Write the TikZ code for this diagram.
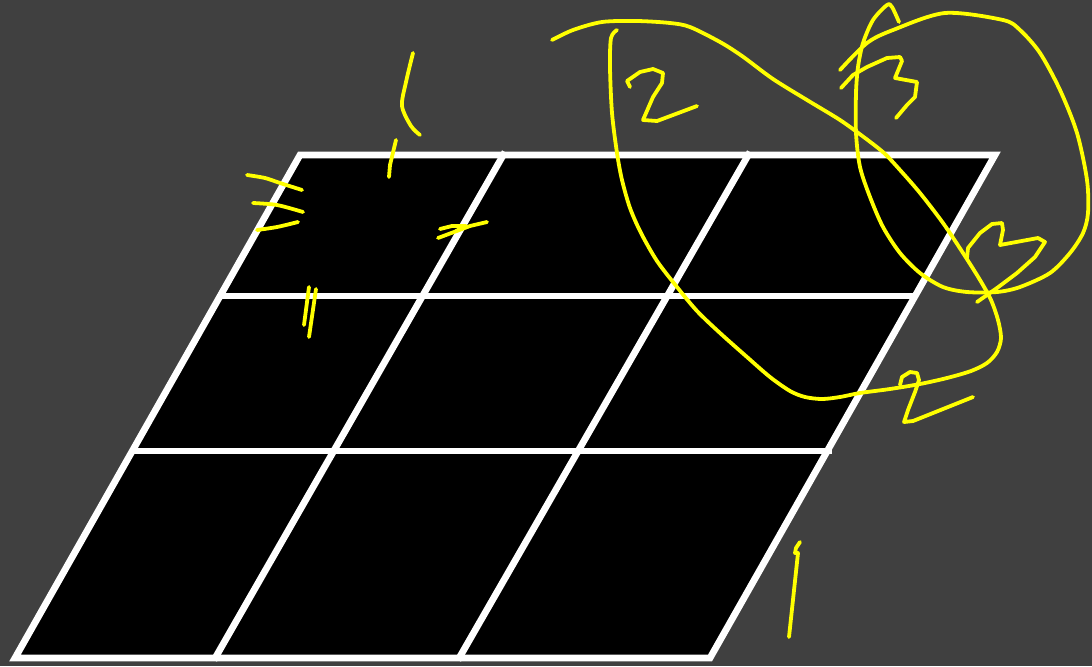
\documentclass[tikz,border=0pt]{standalone}
\usepackage{tikz}
\usepackage{xcolor}
\usetikzlibrary{calc}
\definecolor{skBoard}{HTML}{404040}
\definecolor{skPen}{HTML}{FFFF00}
\tikzset{
    % Grid
    skGrid/.style={draw=white, line width=4.8pt, line join=miter},
    % Pen strokes
    skPenStroke/.style={draw=skPen, line width=2.7pt, line cap=round, line join=round},
    skCurve/.style={skPenStroke, smooth, tension=0.5}
}
\begin{document}
\begin{tikzpicture}[x=0.025cm, y=-0.025cm]
\fill[skBoard] (0,0) rectangle (1092,666);
\useasboundingbox (0,0) rectangle (1092,666);

% the board
\coordinate (tl) at (300,155);
\coordinate (tr) at (995,155);
\coordinate (br) at (710,658);
\coordinate (bl) at (15,658);
\filldraw[skGrid, fill=black] (tl) -- (tr) -- (br) -- (bl) -- cycle;
\coordinate (rowAl) at (220,296);
\coordinate (rowAr) at (915,296);
\coordinate (rowBl) at (132,451);
\coordinate (rowBr) at (832,451);
\coordinate (colAt) at (505,152);
\coordinate (colAb) at (214,660);
\coordinate (colBt) at (750,152);
\coordinate (colBb) at (458,660);
\draw[skGrid] (rowAl) -- (rowAr);
\draw[skGrid] (rowBl) -- (rowBr);
\draw[skGrid] (colAt) -- (colAb);
\draw[skGrid] (colBt) -- (colBb);

% marks on the left
\draw[skCurve] plot coordinates {(413,53) (406,82) (402,106) (411,126) (420,135)};
\draw[skPenStroke] (396,140) -- (390,165) -- (389,177);
\draw[skCurve] plot coordinates {(247,175) (265,178) (280,183) (302,190)};
\draw[skCurve] plot coordinates {(253,203) (277,205) (303,212)};
\draw[skCurve] plot coordinates {(257,230) (277,227) (298,222)};
\draw[skPenStroke] (440,229) -- (452,226) -- (466,226) -- (456,231);
\draw[skPenStroke] (438,238) -- (470,226) -- (487,222);
\draw[skPenStroke] (309,287) -- (304,325);
\draw[skPenStroke] (316,289) -- (309,337);

% long loop
\draw[skCurve] plot coordinates {(552,40) (573,30) (602,22) (637,21) (670,23) (690,27)
    (720,42) (742,56) (773,79) (807,100) (840,120) (865,138) (884,153) (900,170)
    (920,193) (943,223) (963,253) (980,280) (991,300) (998,320) (1001,338) (997,352)
    (987,363) (971,371) (947,378) (920,384) (890,389) (860,393) (840,397) (822,399)
    (805,397) (790,391) (770,377) (747,357) (720,333) (697,311) (677,287) (657,261)
    (641,233) (630,208) (622,180) (617,153) (612,113) (610,67) (611,38) (617,30)};
\draw[skPenStroke] (630,87) -- (627,81) -- (640,72) -- (653,69) -- (663,73) -- (662,83)
    -- (653,97) -- (643,120) -- (657,121) -- (697,106);

% loop round the three
\draw[skCurve] plot coordinates {(840,70) (867,43) (893,30) (945,13) (1003,20) (1020,30)
    (1040,53) (1060,90) (1077,133) (1087,180) (1088,213) (1083,233) (1070,253)
    (1050,273) (1020,287) (997,292) (967,292) (943,287) (920,273) (900,253) (883,227)
    (870,197) (860,167) (856,133) (856,93) (858,67) (863,43) (873,20) (887,5) (892,7)
    (899,22)};
\draw[skPenStroke] (841,88) -- (853,75) -- (867,67) -- (887,58) -- (900,57) -- (902,61)
    -- (895,78) -- (917,82) -- (915,97) -- (907,105) -- (896,118);
\draw[skPenStroke] (967,258) -- (968,248) -- (980,233) -- (992,224) -- (1002,223)
    -- (1003,230) -- (1000,245) -- (1038,238) -- (1045,242) -- (1035,257) -- (1017,273)
    -- (997,288) -- (977,302);

% the two at the bend
\draw[skPenStroke] (900,385) -- (902,377) -- (910,372) -- (917,373) -- (919,380)
    -- (915,392) -- (908,410) -- (904,422) -- (913,421) -- (933,413) -- (973,397);

% marks on the right
\draw[skPenStroke] (800,542) -- (796,548) -- (795,553) -- (798,553) -- (789,637);
\end{tikzpicture}
\end{document}
